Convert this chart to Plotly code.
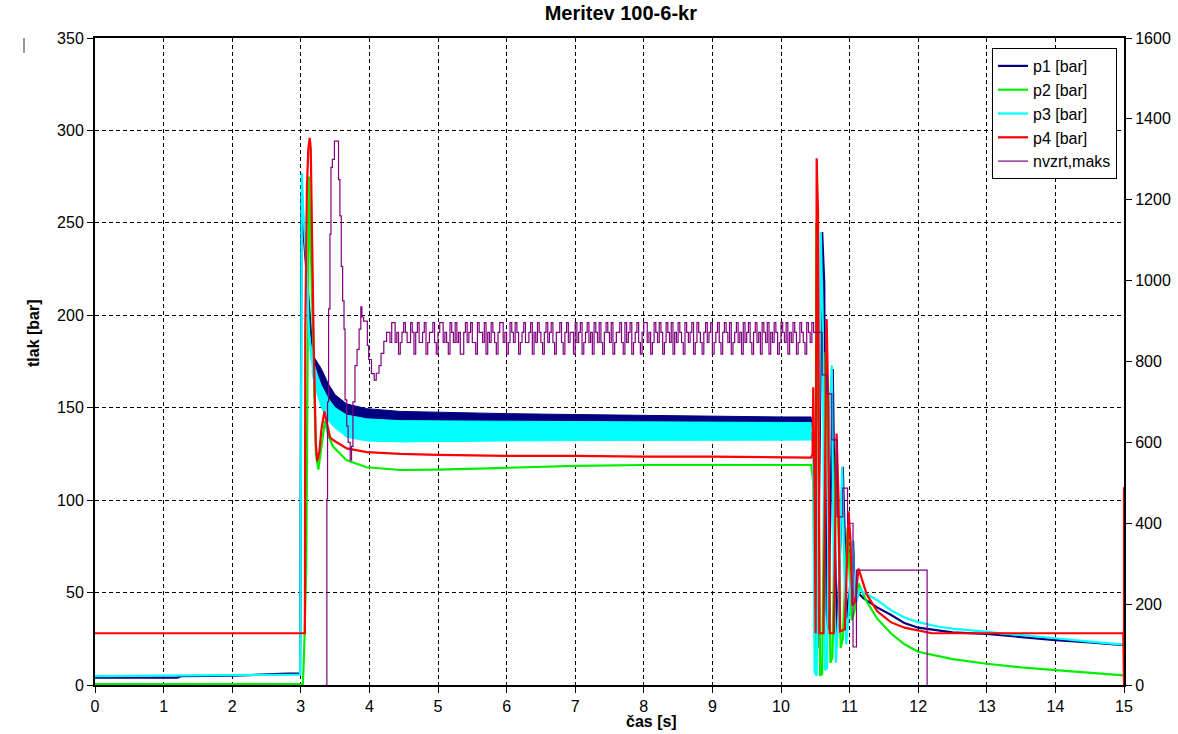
import plotly.graph_objects as go

# ---------------- data ----------------
# p1 [bar]
p1_t = [0.0, 1.2, 1.25, 2.0, 2.7, 2.99, 3.0, 3.01, 3.03, 3.06, 3.10, 3.15, 3.2, 3.3, 3.5, 3.67, 3.96, 4.45, 5, 6, 7, 8, 9, 10,
        10.44, 10.47, 10.50, 10.53, 10.57, 10.60, 10.63, 10.66, 10.69, 10.73, 10.755, 10.78, 10.81, 10.85, 10.90, 10.93,
        10.96, 11.0, 11.05, 11.08, 11.12, 11.2, 11.4, 11.6, 11.8, 12.0, 12.3, 12.5, 13.0, 13.5, 14.0, 14.5, 15.0]
p1_v = [4.0, 4.0, 4.8, 5.0, 6.0, 6.3, 120, 265, 250, 235, 215, 190, 174, 165, 154, 149, 147, 145.5, 145, 144.5, 144, 143.5, 143, 143,
        143, 140, 80, 20, 150, 245, 218, 40, 30, 120, 171, 100, 25, 60, 118, 80,
        36, 50, 78, 45, 50, 47, 42, 38, 33.5, 31, 29.5, 28.5, 27.6, 25.8, 24.3, 23, 21.6]
# p1 noise band (upper / lower envelope)
p1_band_t = [3.2, 3.3, 3.4, 3.5, 3.67, 3.96, 4.45, 5, 6, 7, 8, 9, 10, 10.44]
p1_band_hi = [177, 171, 163, 157, 152, 149.5, 148, 147.5, 146.8, 146.3, 145.8, 145.4, 145, 145]
p1_band_lo = [166, 160, 152, 147, 144, 142, 141, 140.5, 140, 140, 139.5, 139.5, 139.5, 139.5]

# p2 [bar]
p2_t = [0.0, 3.03, 3.05, 3.08, 3.10, 3.12, 3.15, 3.19, 3.22, 3.256, 3.30, 3.353, 3.40, 3.47, 3.67, 3.96, 4.45, 5.0, 6.0, 7.0,
        8.0, 9.0, 10.0, 10.44, 10.47, 10.50, 10.515, 10.54, 10.57, 10.60, 10.65, 10.69, 10.72, 10.75, 10.80, 10.84, 10.87,
        10.90, 10.97, 11.00, 11.03, 11.07, 11.13, 11.25, 11.4, 11.6, 11.8, 12.0, 12.5, 13.0, 13.5, 14.0, 14.5, 15.0]
p2_v = [0.5, 0.5, 20, 65, 180, 275, 230, 160, 125, 116.5, 128, 143, 135, 129, 121.5, 117.8, 116.3, 116.5, 117.5, 118.5,
        119, 119, 119, 119, 110, 6, 250, 160, 5, 6, 180, 120, 12, 15, 125, 80, 20,
        25, 85, 60, 35, 40, 55, 45, 36, 28, 22, 18, 14, 11.5, 9.5, 8, 6.5, 5.2]

# p3 [bar]
p3_t = [0.0, 1.5, 2.5, 2.99, 3.0, 3.015, 3.035, 3.06, 3.08, 3.10, 3.12, 3.16, 3.2, 3.3, 3.5, 3.67, 3.96, 4.45, 5, 6, 7, 8, 9, 10,
        10.44, 10.47, 10.49, 10.52, 10.55, 10.58, 10.61, 10.64, 10.67, 10.71, 10.74, 10.77, 10.80, 10.84, 10.89, 10.92,
        10.95, 10.99, 11.04, 11.07, 11.10, 11.15, 11.2, 11.4, 11.6, 11.8, 12.0, 12.3, 12.5, 13.0, 13.5, 14.0, 14.5, 15.0]
p3_v = [4.8, 5.0, 5.3, 5.6, 100, 277, 257, 241, 230, 208, 190, 176, 168, 157, 146, 140, 138, 137, 137, 137, 136.5, 136.5, 136.5, 136.5,
        136.5, 130, 7, 5, 150, 245, 190, 8, 9, 150, 173, 60, 12, 40, 118, 70,
        22, 40, 78, 50, 45, 52, 50, 46, 40.5, 36.5, 34, 31.5, 30.5, 28.7, 26.8, 25.3, 23.5, 21.8]
# p3 noise band (upper / lower envelope)
p3_band_t = [3.16, 3.2, 3.25, 3.3, 3.4, 3.5, 3.67, 3.96, 4.45, 5, 6, 7, 8, 9, 10, 10.44]
p3_band_hi = [183, 173, 167, 162, 155, 150, 146, 144, 143, 143, 142.7, 142.5, 142.3, 142.2, 142, 142]
p3_band_lo = [170, 162, 156, 150, 143, 139, 134, 132, 131.5, 131.7, 132, 132.2, 132.4, 132.5, 132.5, 132.5]

# p4 [bar]
p4_t = [0.0, 3.06, 3.065, 3.09, 3.11, 3.13, 3.145, 3.16, 3.19, 3.22, 3.24, 3.27, 3.30, 3.343, 3.38, 3.426, 3.47, 3.67, 3.96,
        4.45, 5.0, 6.0, 7.0, 8.0, 9.0, 10.0, 10.44, 10.46, 10.47, 10.49, 10.505, 10.52, 10.54, 10.56, 10.62, 10.665, 10.69,
        10.71, 10.77, 10.81, 10.84, 10.86, 10.93, 10.985, 11.01, 11.04, 11.08, 11.13, 11.25, 11.4, 11.6, 11.8, 12.0, 12.2,
        14.99, 15.0, 15.0]
p4_v = [28, 28, 190, 270, 290, 296, 290, 250, 180, 130, 121, 126, 138, 148, 141, 134, 132.5, 128, 126,
        125, 124.5, 124, 124, 123.5, 123.5, 123, 123, 125, 161, 100, 28, 285, 255, 28, 28, 198, 150,
        28, 28, 136, 100, 29, 30, 94, 80, 43, 45, 63, 49, 40, 34, 31, 29.5, 28,
        28, 0, 107]

# nvzrt,maks (right axis) - start-up transient
nv_rise_t = [3.36, 3.38, 3.39, 3.405, 3.425, 3.44, 3.46, 3.49, 3.52, 3.55, 3.57, 3.59, 3.61, 3.63, 3.645, 3.67, 3.69,
             3.72, 3.74, 3.76, 3.79, 3.82, 3.85, 3.875, 3.89, 3.915, 3.94, 3.97, 3.99, 4.03, 4.07, 4.10, 4.14, 4.17, 4.21]
nv_rise_v = [0, 460, 700, 930, 1115, 1280, 1300, 1345, 1345, 1250, 1160, 1035, 950, 880, 705, 640, 600,
             556, 590, 700, 790, 830, 880, 935, 910, 900, 900, 840, 805, 770, 754, 771, 790, 820, 850]
# nvzrt,maks - steady part, sampled every nv_osc_dt seconds from nv_osc_t0
nv_osc_t0 = 4.25
nv_osc_dt = 0.025
nv_osc_v = [
    872, 872, 847, 896, 896, 847, 872, 818, 847, 872, 896, 872, 847, 847, 896, 872, 818, 872, 896, 847,
    847, 872, 896, 818, 847, 872, 872, 896, 847, 818, 872, 896, 896, 847, 872, 847, 818, 896, 872, 847,
    896, 847, 872, 818, 818, 872, 896, 847, 872, 896, 847, 847, 818, 896, 872, 872, 847, 896, 818, 872,
    847, 896, 872, 847, 818, 872, 896, 896, 847, 872, 818, 847, 896, 872, 847, 896, 872, 818, 847, 872,
    896, 847, 847, 872, 896, 818, 872, 847, 896, 872, 847, 818, 872, 896, 847, 872, 896, 847, 818, 872,
    872, 896, 847, 818, 872, 896, 847, 872, 872, 818, 896, 847, 872, 896, 818, 847, 872, 896, 847, 872,
    818, 896, 872, 847, 896, 847, 818, 872, 896, 872, 847, 896, 818, 847, 872, 872, 896, 847, 818, 896,
    847, 872, 896, 818, 847, 872, 896, 847, 818, 872, 896, 896, 847, 872, 818, 847, 896, 872, 847, 896,
    872, 818, 847, 896, 872, 847, 896, 818, 872, 847, 896, 872, 847, 818, 896, 872, 847, 872, 896, 818,
    847, 896, 872, 847, 818, 872, 896, 847, 872, 896, 818, 847, 872, 896, 847, 818, 872, 896, 872, 847,
    896, 818, 847, 872, 896, 847, 872, 818, 896, 847, 872, 896, 847, 818, 872, 896, 847, 872, 818, 896,
    872, 847, 896, 818, 872, 847, 896, 872, 818, 847, 896, 872, 847, 896, 818, 872, 847, 896, 872, 818,
    847, 896, 872, 847, 818, 896, 872, 847, 896, 872, 872, 872, 872]
# nvzrt,maks - shut-down
nv_end_t = [10.60, 10.67, 10.74, 10.82, 10.90, 10.97, 11.05, 11.10, 12.13]
nv_end_v = [767, 720, 606, 416, 487, 400, 94, 284, 0]

x_ticks = list(range(0, 16))
y_ticks = [0, 50, 100, 150, 200, 250, 300, 350]
y2_ticks = [0, 200, 400, 600, 800, 1000, 1200, 1400, 1600]

# ---------------- figure ----------------
NAVY = '#000080'
GREEN = '#00ee00'
CYAN = '#00ffff'
RED = '#ff0000'
PURPLE = '#800080'

nv_t = nv_rise_t + [nv_osc_t0 + i * nv_osc_dt for i in range(len(nv_osc_v))] + nv_end_t
nv_v = nv_rise_v + nv_osc_v + nv_end_v

fig = go.Figure()

fig.add_trace(go.Scatter(x=p1_t, y=p1_v, mode='lines', name='p1 [bar]', legendgroup='p1',
                         line=dict(color=NAVY, width=2.2)))
fig.add_trace(go.Scatter(x=p1_band_t + p1_band_t[::-1], y=p1_band_hi + p1_band_lo[::-1], mode='lines',
                         fill='toself', fillcolor=NAVY, line=dict(color=NAVY, width=1),
                         showlegend=False, hoverinfo='skip', legendgroup='p1'))
fig.add_trace(go.Scatter(x=p2_t, y=p2_v, mode='lines', name='p2 [bar]', legendgroup='p2',
                         line=dict(color=GREEN, width=2.2)))
fig.add_trace(go.Scatter(x=p3_band_t + p3_band_t[::-1], y=p3_band_hi + p3_band_lo[::-1], mode='lines',
                         fill='toself', fillcolor=CYAN, line=dict(color=CYAN, width=1),
                         showlegend=False, hoverinfo='skip', legendgroup='p3'))
fig.add_trace(go.Scatter(x=p3_t, y=p3_v, mode='lines', name='p3 [bar]', legendgroup='p3',
                         line=dict(color=CYAN, width=2.2)))
fig.add_trace(go.Scatter(x=p4_t, y=p4_v, mode='lines', name='p4 [bar]', legendgroup='p4',
                         line=dict(color=RED, width=2.2)))
fig.add_trace(go.Scatter(x=nv_t, y=nv_v, mode='lines', name='nvzrt,maks', legendgroup='nv', yaxis='y2',
                         line=dict(color=PURPLE, width=1.2, shape='hv')))

axis_font = dict(family='Liberation Sans, Arial, sans-serif', size=16, color='black')
grid = dict(showgrid=True, gridcolor='black', gridwidth=1, griddash='4px,3px')

fig.update_layout(
    width=1178, height=734,
    margin=dict(l=95, r=54, t=38, b=49, autoexpand=False),
    paper_bgcolor='white', plot_bgcolor='white',
    font=axis_font,
    title=dict(text='<b>Meritev 100-6-kr</b>', x=0.511, xref='paper', xanchor='center',
               y=1 - 13 / 734, yanchor='middle', font=dict(size=20, color='black')),
    xaxis=dict(range=[0, 15], tickvals=x_ticks, **grid, showline=True, linecolor='black', linewidth=2,
               mirror=True, ticks='outside', ticklen=6, tickcolor='black', zeroline=False, tickfont=axis_font,
               automargin=False),
    yaxis=dict(range=[0, 350], tickvals=y_ticks, **grid, showline=True, linecolor='black', linewidth=2,
               ticks='outside', ticklen=6, tickcolor='black', zeroline=False, tickfont=axis_font,
               automargin=False),
    yaxis2=dict(range=[0, 1600], tickvals=y2_ticks, overlaying='y', side='right', showgrid=False,
                showline=True, linecolor='black', linewidth=2, ticks='outside', ticklen=6, tickcolor='black',
                zeroline=False, tickfont=axis_font, layer='below traces', automargin=False),
    legend=dict(x=(1117 - 95) / 1029, xanchor='right', y=(685 - 48) / 647, yanchor='top', bgcolor='white',
                bordercolor='black', borderwidth=1, font=dict(size=16, color='black'), tracegroupgap=8,
                traceorder='normal'),
    annotations=[
        dict(text='<b>tlak [bar]</b>', textangle=-90, x=(33 - 95) / 1029, y=0.544, xref='paper', yref='paper',
             showarrow=False, font=dict(size=16, color='black'), xanchor='center', yanchor='middle'),
        dict(text='<b>čas [s]</b>', x=0.541, y=(685 - 721) / 647, xref='paper', yref='paper',
             showarrow=False, font=dict(size=16, color='black'), xanchor='center', yanchor='middle'),
    ],
    shapes=[dict(type='line', xref='paper', yref='paper', x0=(24 - 95) / 1029, x1=(24 - 95) / 1029,
                 y0=1.0, y1=(685 - 53) / 647, line=dict(color='#333333', width=1))],
)

fig.write_html('out.html', config={'displayModeBar': False},
               post_script="document.body.style.margin='0';document.body.style.overflow='hidden';")
